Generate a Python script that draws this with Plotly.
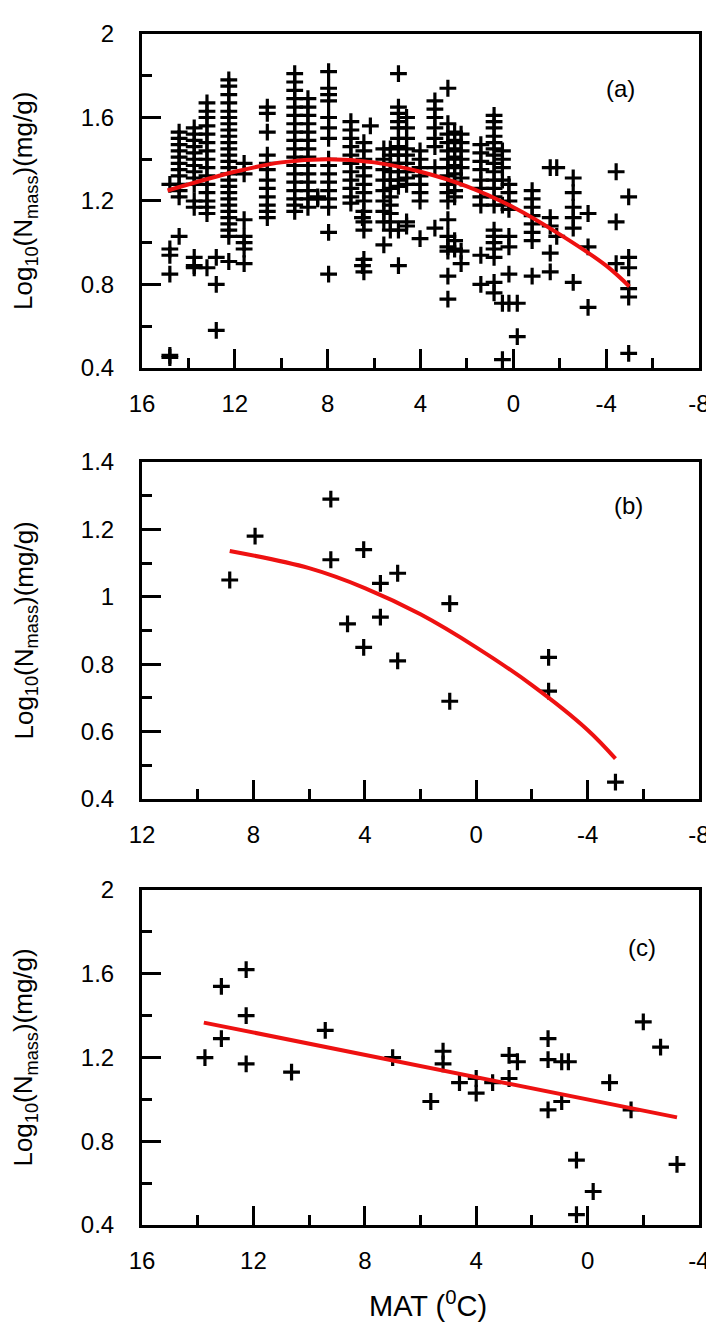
import plotly.graph_objects as go

# ---------------- data ----------------
# Panel (a): MAT column positions and Log10(Nmass) values in each column
a_mat = [14.8, 14.4, 13.75, 13.2, 12.8, 12.26, 11.6, 10.6, 9.42, 8.85, 8.43, 7.96, 7.0, 6.5,
         6.44, 6.16, 5.58, 5.3, 4.95, 4.6, 4.02, 3.38, 2.82, 2.53, 2.25, 1.4, 0.83, 0.47,
         0.19, -0.17, -0.81, -1.59, -1.87, -2.58, -3.22, -4.43, -4.97]
a_nmass = [
    [1.28, 0.97, 0.94, 0.85, 0.46, 0.45],
    [1.53, 1.50, 1.47, 1.44, 1.41, 1.38, 1.35, 1.32, 1.28, 1.25, 1.22, 1.03],
    [1.55, 1.52, 1.49, 1.46, 1.43, 1.40, 1.37, 1.34, 1.31, 1.28, 1.20, 1.17, 0.93, 0.89, 0.88],
    [1.67, 1.63, 1.60, 1.56, 1.52, 1.48, 1.44, 1.40, 1.36, 1.32, 1.28, 1.24, 1.20, 1.17, 1.14, 0.88],
    [0.93, 0.80, 0.58],
    [1.78, 1.75, 1.71, 1.67, 1.63, 1.60, 1.57, 1.54, 1.51, 1.48, 1.45, 1.42, 1.39, 1.36, 1.33,
     1.30, 1.27, 1.24, 1.21, 1.18, 1.15, 1.12, 1.09, 1.06, 1.03, 0.91],
    [1.38, 1.33, 1.11, 1.03, 1.00, 0.97, 0.90],
    [1.65, 1.62, 1.53, 1.42, 1.38, 1.35, 1.30, 1.26, 1.22, 1.18, 1.15, 1.12],
    [1.81, 1.77, 1.73, 1.69, 1.65, 1.61, 1.57, 1.53, 1.49, 1.45, 1.41, 1.37, 1.33, 1.29, 1.25,
     1.21, 1.18, 1.15],
    [1.69, 1.65, 1.61, 1.57, 1.53, 1.49, 1.45, 1.41, 1.37, 1.33, 1.29, 1.25, 1.21, 1.17],
    [1.22, 1.21],
    [1.82, 1.74, 1.71, 1.68, 1.60, 1.55, 1.50, 1.40, 1.37, 1.33, 1.29, 1.25, 1.21, 1.17, 1.05, 0.85],
    [1.58, 1.54, 1.50, 1.46, 1.42, 1.38, 1.34, 1.30, 1.26, 1.22, 1.19],
    [1.12, 0.89],
    [1.48, 1.44, 1.40, 1.36, 1.32, 1.28, 1.24, 1.20, 1.15, 1.10, 1.06, 0.92, 0.86],
    [1.56],
    [1.45, 1.40, 1.35, 1.30, 1.25, 1.20, 1.15, 1.10, 0.99],
    [1.45, 1.42, 1.38, 1.34, 1.30, 1.26, 1.22, 1.18, 1.14, 1.10, 1.06],
    [1.81, 1.65, 1.62, 1.58, 1.55, 1.50, 1.46, 1.42, 1.38, 1.34, 1.30, 1.27, 1.06, 0.89],
    [1.60, 1.55, 1.50, 1.45, 1.42, 1.38, 1.34, 1.31, 1.28, 1.10, 1.08],
    [1.44, 1.40, 1.36, 1.32, 1.28, 1.24, 1.20, 1.02],
    [1.68, 1.64, 1.60, 1.55, 1.50, 1.46, 1.36, 1.07],
    [1.74, 1.57, 1.52, 1.48, 1.44, 1.40, 1.36, 1.32, 1.28, 1.24, 1.20, 1.11, 1.03, 0.98, 0.96,
     0.84, 0.73],
    [1.53, 1.49, 1.45, 1.41, 1.37, 1.33, 1.29, 1.25, 1.22, 1.01, 0.97],
    [1.52, 1.48, 1.44, 1.40, 1.36, 1.31, 0.96, 0.90],
    [1.47, 1.43, 1.39, 1.35, 1.30, 1.26, 1.22, 1.18, 0.94, 0.80],
    [1.61, 1.58, 1.55, 1.51, 1.48, 1.45, 1.42, 1.38, 1.34, 1.30, 1.26, 1.22, 1.18, 1.06, 1.03,
     1.00, 0.97, 0.93, 0.81, 0.76],
    [1.44, 1.40, 1.36, 1.30, 1.18, 0.71, 0.44],
    [1.28, 1.24, 1.20, 1.16, 1.03, 0.98, 0.85, 0.71],
    [0.71, 0.55],
    [1.25, 1.21, 1.17, 1.13, 1.09, 1.05, 1.01, 0.84],
    [1.36, 1.12, 1.08, 0.95, 0.86],
    [1.36, 1.03],
    [1.31, 1.24, 1.17, 1.12, 1.07, 0.81],
    [1.14, 0.98, 0.69],
    [1.34, 1.10, 0.90],
    [1.22, 0.93, 0.88, 0.78, 0.74, 0.47],
]
a_fit_mat = [14.9, 12, 10, 8, 6, 4, 2, 0, -2, -4, -5]
a_fit_n = [1.25, 1.34, 1.385, 1.40, 1.385, 1.34, 1.27, 1.17, 1.04, 0.89, 0.79]

# Panel (b)
b_mat = [8.85, 7.94, 5.22, 5.22, 4.62, 4.04, 4.04, 3.44, 3.44, 2.82, 2.82, 0.95, 0.95, -2.6, -2.6, -5.0]
b_nmass = [1.05, 1.18, 1.29, 1.11, 0.92, 1.14, 0.85, 1.04, 0.94, 1.07, 0.81, 0.98, 0.69, 0.82, 0.72, 0.45]
b_fit_mat = [8.85, 6, 4, 2, 0, -2, -4, -5]
b_fit_n = [1.136, 1.085, 1.026, 0.948, 0.85, 0.738, 0.605, 0.52]

# Panel (c)
c_mat = [13.74, 13.15, 13.15, 12.26, 12.26, 12.26, 10.63, 9.42, 7.0, 5.19, 5.19, 5.63, 4.6,
         4.0, 4.0, 3.41, 2.82, 2.52, 2.82, 1.42, 1.42, 1.42, 0.93, 0.69, 0.93, 0.4, -0.2, 0.4,
         -0.79, -1.56, -2.0, -2.62, -3.21]
c_nmass = [1.20, 1.54, 1.29, 1.62, 1.40, 1.17, 1.13, 1.33, 1.20, 1.23, 1.17, 0.99, 1.08,
           1.10, 1.03, 1.08, 1.21, 1.18, 1.10, 1.29, 1.19, 0.95, 1.18, 1.18, 0.99, 0.71, 0.56, 0.45,
           1.08, 0.95, 1.37, 1.25, 0.69]
c_fit_mat = [13.78, -3.21]
c_fit_n = [1.367, 0.914]

# tick labels
x_ticks = [[16, 12, 8, 4, 0, -4, -8], [12, 8, 4, 0, -4, -8], [16, 12, 8, 4, 0, -4]]
x_ticklabels = [["16", "12", "8", "4", "0", "-4", "-8"],
                ["12", "8", "4", "0", "-4", "-8"],
                ["16", "12", "8", "4", "0", "-4"]]
y_ticks = [[0.4, 0.8, 1.2, 1.6, 2.0], [0.4, 0.6, 0.8, 1.0, 1.2, 1.4], [0.4, 0.8, 1.2, 1.6, 2.0]]
y_ticklabels = [["0.4", "0.8", "1.2", "1.6", "2"],
                ["0.4", "0.6", "0.8", "1", "1.2", "1.4"],
                ["0.4", "0.8", "1.2", "1.6", "2"]]

panel_labels = ["(a)", "(b)", "(c)"]
x_title = "MAT (<sup>0</sup>C)"
y_title = "Log<sub>10</sub>(N<sub>mass</sub>)(mg/g)"

# ---------------- figure ----------------
ax_x = []
ax_y = []
for xs, ys in zip(a_mat, a_nmass):
    ax_x += [xs] * len(ys)
    ax_y += ys

FONT = "Liberation Sans, Arial, sans-serif"
marker = dict(symbol="cross-thin", size=12, line=dict(color="black", width=3.2), color="black")
red = dict(color="#ee1111", width=4)

fig = go.Figure()
panels = [
    ("x", "y", ax_x, ax_y, a_fit_mat, a_fit_n),
    ("x2", "y2", b_mat, b_nmass, b_fit_mat, b_fit_n),
    ("x3", "y3", c_mat, c_nmass, c_fit_mat, c_fit_n),
]
for xa, ya, px, py, fx, fy in panels:
    fig.add_trace(go.Scatter(x=px, y=py, mode="markers", marker=marker, xaxis=xa, yaxis=ya,
                             showlegend=False, hoverinfo="skip"))
    fig.add_trace(go.Scatter(x=fx, y=fy, mode="lines", line=dict(shape="spline", **red),
                             xaxis=xa, yaxis=ya, showlegend=False, hoverinfo="skip"))

domains = [[0.7196, 1.0], [0.3577, 0.6406], [0.0, 0.2812]]
xranges = [[16, -8], [12, -8], [16, -4]]
yranges = [[0.4, 2.0], [0.4, 1.4], [0.4, 2.0]]
ydticks = [0.4, 0.2, 0.4]

common = dict(showline=True, linecolor="black", linewidth=3, mirror=True, showgrid=False,
              zeroline=False, ticks="inside", ticklen=19, tickwidth=3, tickcolor="black",
              tickfont=dict(family=FONT, size=24, color="black"))

layout = dict(
    width=714, height=1323,
    margin=dict(l=134, r=17, t=15, b=106),
    paper_bgcolor="white", plot_bgcolor="white",
    font=dict(family=FONT, color="black"),
)
for i in range(3):
    sx = "" if i == 0 else str(i + 1)
    layout["xaxis" + sx] = dict(
        range=xranges[i], tickmode="array", tickvals=x_ticks[i], ticktext=x_ticklabels[i],
        anchor="y" + sx, domain=[0, 1],
        minor=dict(dtick=2, tick0=0, ticks="inside", ticklen=10, tickwidth=3, tickcolor="black"),
        ticklabelstandoff=12, **common)
    layout["yaxis" + sx] = dict(
        range=yranges[i], tickmode="array", tickvals=y_ticks[i], ticktext=y_ticklabels[i],
        anchor="x" + sx, domain=domains[i],
        minor=dict(dtick=ydticks[i] / 2, tick0=0.4, ticks="inside", ticklen=10, tickwidth=3,
                   tickcolor="black"),
        ticklabelstandoff=20, **common)
fig.update_layout(**layout)

annotations = []
label_pos = [(-4.6, 1.74, "x", "y"), (-5.48, 1.27, "x2", "y2"), (-1.94, 1.725, "x3", "y3")]
for lab, (lx, ly, xr, yr) in zip(panel_labels, label_pos):
    annotations.append(dict(text=lab, x=lx, y=ly, xref=xr, yref=yr, showarrow=False,
                            font=dict(family=FONT, size=24, color="black")))
for d in domains:
    annotations.append(dict(text=y_title, textangle=-90, x=-0.21, y=(d[0] + d[1]) / 2,
                            xref="paper", yref="paper", xanchor="center", yanchor="middle",
                            showarrow=False, font=dict(family=FONT, size=26, color="black")))
annotations.append(dict(text=x_title, x=0.513, y=-0.0835, xref="paper", yref="paper",
                        xanchor="center", yanchor="bottom", showarrow=False,
                        font=dict(family=FONT, size=29, color="black")))
fig.update_layout(annotations=annotations)

fig.write_html("out.html")
